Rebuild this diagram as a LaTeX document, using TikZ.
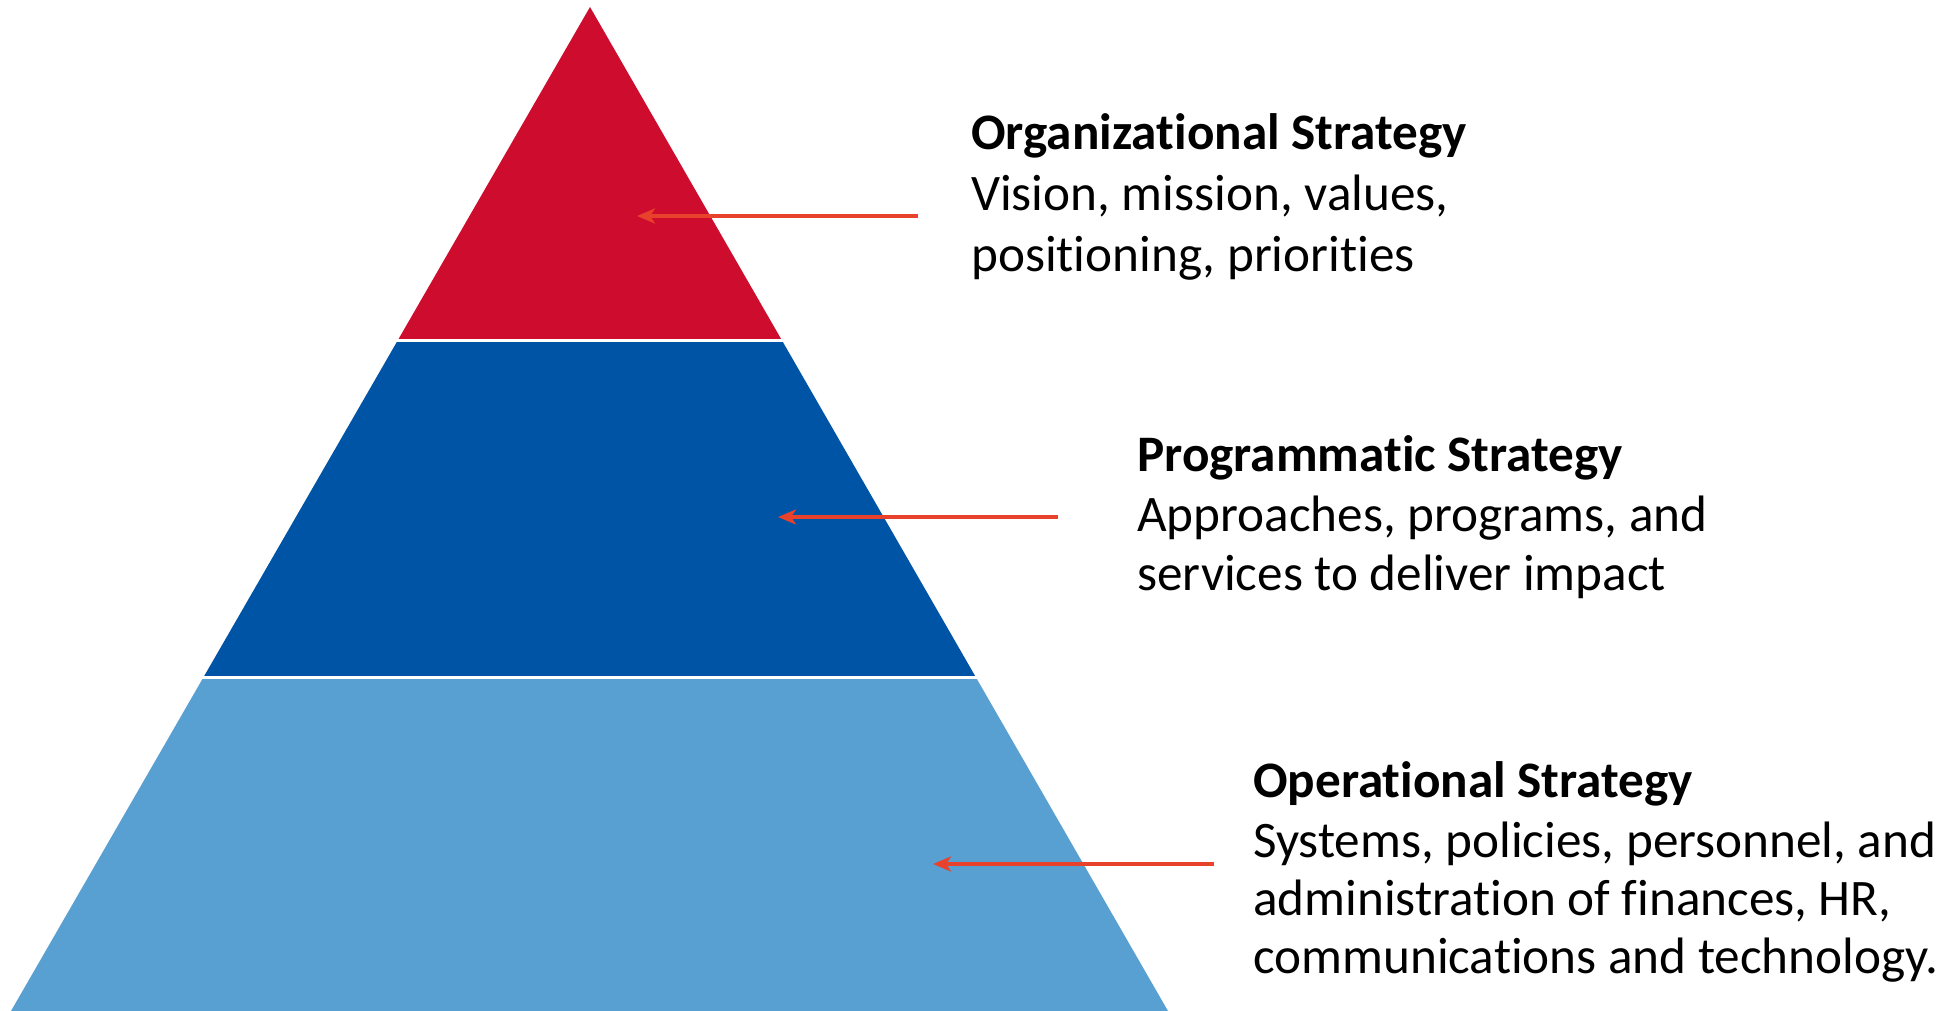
\documentclass[tikz,border=0pt]{standalone}
\usepackage{fontspec}
\setmainfont{Carlito}[Ligatures=NoCommon]
\usetikzlibrary{arrows.meta}
\definecolor{tierred}{HTML}{CE0C2E}
\definecolor{tierblue}{HTML}{0054A5}
\definecolor{tierlight}{HTML}{589FD2}
\definecolor{pointer}{HTML}{E8412C}
\tikzset{
  txt/.style={anchor=base west, inner sep=0pt, font=\fontsize{51.2}{60}\selectfont},
  ttl/.style={txt, font=\fontsize{51.2}{60}\selectfont\bfseries},
  pointerline/.style={draw=pointer, line width=3.5pt,
    -{Stealth[length=18pt,width=15pt,inset=5pt]}}
}
\begin{document}
\begin{tikzpicture}[x=1pt,y=-1pt]
  \useasboundingbox[fill=white] (0,0) rectangle (1959,1011);
  % pyramid tiers, cut from one triangle
  \begin{scope}
    \clip (590,7) -- (1168,1011) -- (11,1011) -- cycle;
    \fill[tierred]   (0,0)   rectangle (1959,339);
    \fill[tierblue]  (0,342) rectangle (1959,676);
    \fill[tierlight] (0,679) rectangle (1959,1011);
  \end{scope}

  % organizational level
  \node[ttl] (orgT)  at (971,150) {Organizational Strategy};
  \node[txt] (orgA)  at (971,211) {Vision, mission, values,};
  \node[txt] (orgB)  at (971,271) {positioning, priorities};
  \coordinate (orgS) at (918,216);
  \coordinate (orgE) at (637,216);
  \draw[pointerline] (orgS) -- (orgE);

  % programmatic level
  \node[ttl] (proT)  at (1137,471) {Programmatic Strategy};
  \node[txt] (proA)  at (1137,531) {Approaches, programs, and};
  \node[txt] (proB)  at (1137,590) {services to deliver impact};
  \coordinate (proS) at (1058,517);
  \coordinate (proE) at (778,517);
  \draw[pointerline] (proS) -- (proE);

  % operational level
  \node[ttl] (opsT)  at (1253,797) {Operational Strategy};
  \node[txt] (opsA)  at (1253,857) {Systems, policies, personnel, and};
  \node[txt] (opsB)  at (1253,915) {administration of finances, HR,};
  \node[txt] (opsC)  at (1253,973) {communications and technology.};
  \coordinate (opsS) at (1214,864);
  \coordinate (opsE) at (933,864);
  \draw[pointerline] (opsS) -- (opsE);
\end{tikzpicture}
\end{document}
